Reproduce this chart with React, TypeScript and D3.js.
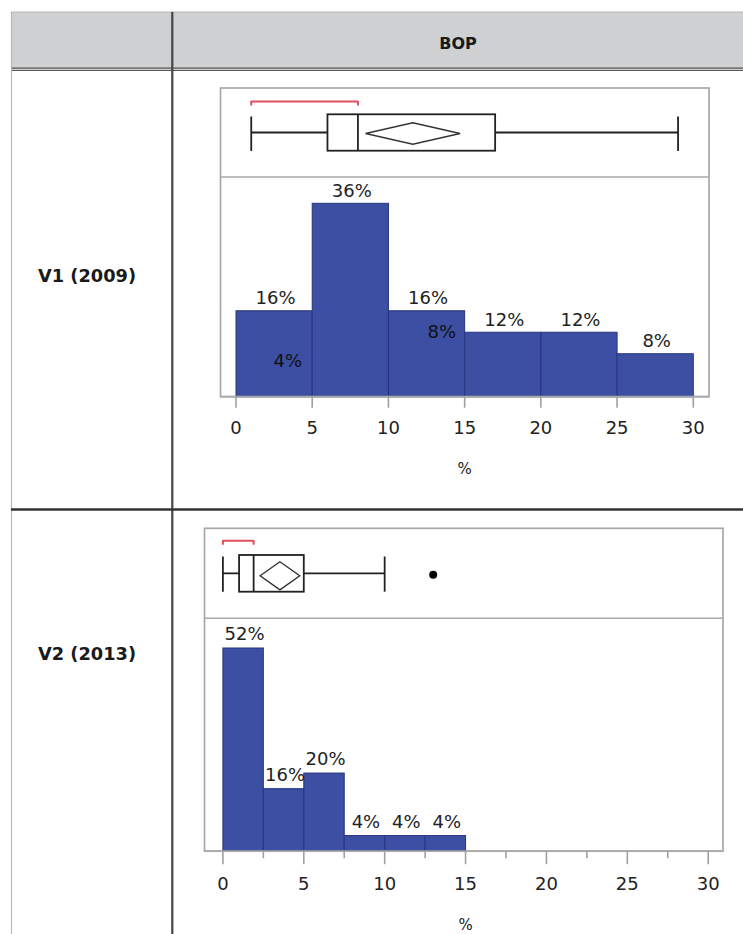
import React from "react";
import * as d3 from "d3";

// ---------- data ----------
const headerTitle = "BOP";
const rowLabels = ["V1 (2009)", "V2 (2013)"];
const xTicks = [0, 5, 10, 15, 20, 25, 30];
const xMinorTicksV2 = [2.5, 7.5, 12.5, 17.5, 22.5, 27.5];
const axisTitle = "%";

// V1 (2009)
const v1BinEdges = [0, 5, 10, 15, 20, 25, 30];
const v1Percents = [16, 36, 16, 12, 12, 8];
// [min, q1, median, q3, max]
const v1Box = [1, 6, 8, 17, 29];
// mean confidence diamond [low, high]
const v1Diamond = [8.5, 14.7];
// shortest half bracket [low, high]
const v1Shortest = [1, 8];
const v1Outliers: number[] = [];
const v1ExtraLabels = [
  { text: "4%", x: 3.4, y: 6.8 },
  { text: "8%", x: 13.5, y: 12.2 },
];

// V2 (2013)
const v2BinEdges = [0, 2.5, 5, 7.5, 10, 12.5, 15];
const v2Percents = [52, 16, 20, 4, 4, 4];
const v2Box = [0, 1, 1.9, 5, 10];
const v2Diamond = [2.3, 4.75];
const v2Shortest = [0, 1.9];
const v2Outliers = [13];

// ---------- styling ----------
const FONT = "'DejaVu Sans', 'Liberation Sans', sans-serif";
const BAR_FILL = "#3c4fa3";
const BAR_STROKE = "#27357f";
const FRAME = "#a9a9ab";
const RED = "#e0505c";
const LABEL_SIZE = 18;

type PanelLayout = {
  left: number;
  right: number;
  top: number;
  divider: number;
  baseline: number;
  x0: number;
  x1: number;
  yMax: number;
  boxTop: number;
  boxBottom: number;
  capTop: number;
  capBottom: number;
  diamondHalf: number;
  diamondCenter: number;
  bracketY: number;
  tickLen: number;
  minorLen: number;
  tickLabelY: number;
  titleY: number;
  labelGap: number;
};

function Panel(props: {
  L: PanelLayout;
  edges: number[];
  percents: number[];
  box: number[];
  diamond: number[];
  shortest: number[];
  outliers: number[];
  minor: number[];
  extra: { text: string; x: number; y: number }[];
}) {
  const { L, edges, percents, box, diamond, shortest, outliers, minor, extra } = props;
  const x = d3.scaleLinear().domain([0, 30]).range([L.x0, L.x1]);
  const y = d3.scaleLinear().domain([0, L.yMax]).range([L.baseline, L.divider]);
  const bins = percents.map((p, i) => ({ p, a: edges[i], b: edges[i + 1] }));
  const [mn, q1, med, q3, mx] = box;
  const bc = (L.boxTop + L.boxBottom) / 2;
  const dm = (diamond[0] + diamond[1]) / 2;
  return (
    <g>
      {/* frame */}
      <rect x={L.left} y={L.top} width={L.right - L.left} height={L.baseline - L.top}
        fill="#fff" stroke={FRAME} strokeWidth={1.7} />
      <line x1={L.left} x2={L.right} y1={L.divider} y2={L.divider} stroke={FRAME} strokeWidth={1.4} />

      {/* shortest half bracket */}
      <path
        d={`M${x(shortest[0])},${L.bracketY + 4} L${x(shortest[0])},${L.bracketY} L${x(shortest[1])},${L.bracketY} L${x(shortest[1])},${L.bracketY + 4}`}
        fill="none" stroke={RED} strokeWidth={2} strokeLinejoin="round" />

      {/* box plot */}
      <g stroke="#222" strokeWidth={1.8} fill="none">
        <line x1={x(mn)} x2={x(q1)} y1={bc} y2={bc} />
        <line x1={x(q3)} x2={x(mx)} y1={bc} y2={bc} />
        <line x1={x(mn)} x2={x(mn)} y1={L.capTop} y2={L.capBottom} />
        <line x1={x(mx)} x2={x(mx)} y1={L.capTop} y2={L.capBottom} />
        <rect x={x(q1)} y={L.boxTop} width={x(q3) - x(q1)} height={L.boxBottom - L.boxTop} />
        <line x1={x(med)} x2={x(med)} y1={L.boxTop} y2={L.boxBottom} />
        <path
          d={`M${x(diamond[0])},${L.diamondCenter} L${x(dm)},${L.diamondCenter - L.diamondHalf} L${x(diamond[1])},${L.diamondCenter} L${x(dm)},${L.diamondCenter + L.diamondHalf} Z`}
          stroke="#333" strokeWidth={1.4} />
      </g>
      {outliers.map((o, i) => (
        <circle key={i} cx={x(o)} cy={L.diamondCenter - 1} r={4} fill="#000" />
      ))}

      {/* histogram bars */}
      {bins.map((d, i) => (
        <rect key={i} x={x(d.a)} y={y(d.p)} width={x(d.b) - x(d.a)} height={L.baseline - y(d.p)}
          fill={BAR_FILL} stroke={BAR_STROKE} strokeWidth={1} />
      ))}
      {bins.map((d, i) => (
        <text key={"l" + i} x={(x(d.a) + x(d.b)) / 2 + 1.5} y={y(d.p) - L.labelGap}
          textAnchor="middle" dominantBaseline="central" fontFamily={FONT} fontSize={LABEL_SIZE} fill="#222">
          {d.p + "%"}
        </text>
      ))}
      {extra.map((e, i) => (
        <text key={"e" + i} x={x(e.x)} y={y(e.y)} textAnchor="middle" dominantBaseline="central"
          fontFamily={FONT} fontSize={LABEL_SIZE} fill="#111">
          {e.text}
        </text>
      ))}
      {/* frame bottom redraw */}
      <line x1={L.left} x2={L.right} y1={L.baseline} y2={L.baseline} stroke={FRAME} strokeWidth={1.7} />

      {/* axis */}
      {xTicks.map((t) => (
        <g key={"t" + t}>
          <line x1={x(t)} x2={x(t)} y1={L.baseline} y2={L.baseline + L.tickLen} stroke="#a0a0a2" strokeWidth={1.6} />
          <text x={x(t)} y={L.tickLabelY} textAnchor="middle" dominantBaseline="central"
            fontFamily={FONT} fontSize={LABEL_SIZE} fill="#222">{t}</text>
        </g>
      ))}
      {minor.map((t) => (
        <line key={"m" + t} x1={x(t)} x2={x(t)} y1={L.baseline} y2={L.baseline + L.minorLen} stroke="#a0a0a2" strokeWidth={1.6} />
      ))}
      <text x={(L.x0 + L.x1) / 2} y={L.titleY} textAnchor="middle" dominantBaseline="central"
        fontFamily={FONT} fontSize={15} fill="#222">{axisTitle}</text>
    </g>
  );
}

const layoutV1: PanelLayout = {
  left: 220.5, right: 709, top: 88, divider: 177, baseline: 396.7,
  x0: 236, x1: 693.3, yMax: 40.9,
  boxTop: 114.3, boxBottom: 150.7, capTop: 116.5, capBottom: 151,
  diamondHalf: 10.8, diamondCenter: 133.5, bracketY: 101.5,
  tickLen: 11, minorLen: 0, tickLabelY: 427.5, titleY: 469, labelGap: 13,
};

const layoutV2: PanelLayout = {
  left: 204.5, right: 723, top: 528.3, divider: 618.3, baseline: 851.2,
  x0: 222.9, x1: 708.2, yMax: 59.6,
  boxTop: 555, boxBottom: 591.7, capTop: 556.5, capBottom: 591.7,
  diamondHalf: 14, diamondCenter: 575.8, bracketY: 540.7,
  tickLen: 13, minorLen: 7, tickLabelY: 883, titleY: 924.5, labelGap: 14.5,
};

export default function App() {
  const W = 743;
  const H = 934;
  return (
    <svg width={W} height={H} style={{ position: "absolute", left: 0, top: 0, background: "#fff" }}>
      {/* header */}
      <rect x={11} y={12} width={W - 11} height={57} fill="#cfd0d2" />
      <line x1={11} x2={W} y1={12} y2={12} stroke="#b5b5b7" strokeWidth={1} />
      <line x1={11} x2={W} y1={68.2} y2={68.2} stroke="#555" strokeWidth={1.2} />
      <line x1={11} x2={W} y1={70.4} y2={70.4} stroke="#555" strokeWidth={1.2} />
      <text x={458} y={43} textAnchor="middle" dominantBaseline="central" fontFamily={FONT}
        fontWeight="bold" fontSize={16} fill="#1a1a1a">{headerTitle}</text>

      {/* table lines */}
      <line x1={11.5} x2={11.5} y1={12} y2={H} stroke="#b8b8ba" strokeWidth={1.2} />
      <line x1={172.3} x2={172.3} y1={12} y2={H} stroke="#444" strokeWidth={2.2} />
      <line x1={11} x2={W} y1={509.5} y2={509.5} stroke="#333" strokeWidth={2.4} />

      {/* row labels */}
      <text x={87} y={275.5} textAnchor="middle" dominantBaseline="central" fontFamily={FONT}
        fontWeight="bold" fontSize={17.8} fill="#1a1a1a">{rowLabels[0]}</text>
      <text x={87} y={653.5} textAnchor="middle" dominantBaseline="central" fontFamily={FONT}
        fontWeight="bold" fontSize={17.8} fill="#1a1a1a">{rowLabels[1]}</text>

      <Panel L={layoutV1} edges={v1BinEdges} percents={v1Percents} box={v1Box} diamond={v1Diamond}
        shortest={v1Shortest} outliers={v1Outliers} minor={[]} extra={v1ExtraLabels} />
      <Panel L={layoutV2} edges={v2BinEdges} percents={v2Percents} box={v2Box} diamond={v2Diamond}
        shortest={v2Shortest} outliers={v2Outliers} minor={xMinorTicksV2} extra={[]} />
    </svg>
  );
}
